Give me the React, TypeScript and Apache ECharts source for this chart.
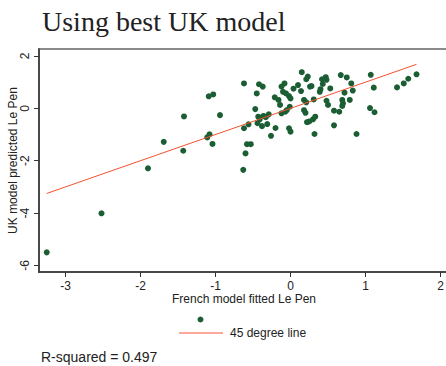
import React, { useEffect, useRef } from "react";
import * as echarts from "echarts";

const frenchFitted = [
  -3.25, -2.52, -1.9, -1.69, -1.43, -1.42, -1.09, -1.03, -0.94, -1.11, -1.08, -1.04,
  -0.62, -0.62, -0.56, -0.58, -0.53, -0.6, -0.63, -0.42, -0.37, -0.45, -0.47, -0.43,
  -0.41, -0.36, -0.33, -0.29, -0.44, -0.38, -0.31, -0.26, -0.2, -0.02, 0.0, -0.21,
  -0.16, -0.14, -0.12, -0.07, -0.05, -0.01, -0.12, -0.08, -0.1, -0.06, -0.02, 0.0,
  0.04, 0.1, 0.14, 0.15, 0.21, 0.23, 0.18, 0.21, 0.18, 0.2, 0.22, 0.25,
  0.3, 0.33, 0.32, 0.26, 0.28, 0.31, 0.39, 0.4, 0.43, 0.42, 0.47, 0.48,
  0.53, 0.48, 0.5, 0.58, 0.65, 0.58, 0.67, 0.75, 0.81, 0.72, 0.83, 0.69,
  0.7, 0.69, 0.79, 0.88, 1.07, 1.11, 1.06, 1.12, 1.42, 1.51, 1.57, 1.68,
];
const ukPredicted = [
  -5.5, -4.01, -2.29, -1.28, -1.62, -0.31, 0.46, 0.53, -0.26, -1.11, -0.99, -1.36,
  0.95, -0.76, -0.61, -1.37, -1.37, -1.72, -2.35, 0.92, 0.83, 0.57, -0.03, -0.32,
  -0.42, -0.29, -0.34, -0.23, -0.57, -0.68, -0.6, -1.05, -0.75, -0.76, -0.89, 0.42,
  0.32, 0.13, -0.19, -0.13, -0.07, 0.06, 0.83, 0.95, 0.63, 0.57, 0.47, 0.38,
  0.75, 0.89, 0.66, 1.38, 1.11, 1.21, 0.32, 0.23, -0.07, -0.17, -0.53, -0.5,
  -0.42, -0.32, -0.98, 0.83, 0.85, 0.34, 0.63, 0.73, 0.93, 1.11, 1.19, 1.09,
  0.76, 0.29, 0.13, -0.09, -0.13, -0.65, 1.27, 1.18, 0.95, 0.6, 0.68, 0.32,
  0.19, 0.09, 0.32, -0.98, 1.28, 0.79, 0.01, -0.15, 0.8, 0.95, 1.13, 1.3,
];
const xTicks = [-3, -2, -1, 0, 1, 2];
const yTicks = [-6, -4, -2, 0, 2];
const titleText = "Using best UK model";
const xName = "French model fitted Le Pen";
const yName = "UK model predicted Le Pen";
const lineName = "45 degree line";
const rSquared = "R-squared = 0.497";

const SANS = "'Liberation Sans', Arial, sans-serif";
const DOT = "#1b5e33";
const RED = "#f4512e";

export default function App() {
  const ref = useRef<HTMLDivElement>(null);
  useEffect(() => {
    if (!ref.current) return;
    const chart = echarts.init(ref.current, undefined, { renderer: "svg" });
    const pts = frenchFitted.map((x, i) => [x, ukPredicted[i]]);
    const xmin = Math.min(...frenchFitted);
    const xmax = Math.max(...frenchFitted);
    chart.setOption({
      animation: false,
      backgroundColor: "#ffffff",
      title: {
        text: titleText,
        left: 37,
        top: 2,
        textStyle: {
          fontFamily: "'Liberation Serif', 'Times New Roman', serif",
          fontSize: 28,
          fontWeight: "normal",
          color: "#222",
        },
      },
      grid: {
        left: 39,
        right: -3,
        top: 49,
        bottom: 94,
        containLabel: false,
        outerBoundsMode: "none",
        show: true,
        borderColor: "#8a8a8a",
        borderWidth: 2,
      },
      xAxis: {
        type: "value",
        min: -3.353,
        max: 2.113,
        name: xName,
        nameLocation: "middle",
        nameGap: 21,
        nameMoveOverlap: false,
        nameTextStyle: { fontSize: 12, color: "#222", fontFamily: SANS },
        axisLine: { show: true, onZero: false, lineStyle: { color: "#333", width: 1.5 } },
        axisTick: { show: true, length: 5, customValues: xTicks, lineStyle: { color: "#333" } },
        axisLabel: {
          customValues: xTicks,
          margin: 8,
          fontSize: 12,
          color: "#222",
          fontFamily: SANS,
          formatter: (v: number) => String(v),
        },
        splitLine: { show: false },
      },
      yAxis: {
        type: "value",
        min: -6.25,
        max: 2.266,
        name: yName,
        nameLocation: "middle",
        nameGap: 20,
        nameMoveOverlap: false,
        nameTextStyle: { fontSize: 12, color: "#222", fontFamily: SANS },
        axisLine: { show: true, onZero: false, lineStyle: { color: "#333", width: 1.5 } },
        axisTick: { show: true, length: 5, customValues: yTicks, lineStyle: { color: "#333" } },
        axisLabel: {
          customValues: yTicks,
          rotate: 90,
          margin: 8,
          fontSize: 12,
          color: "#222",
          fontFamily: SANS,
          formatter: (v: number) => String(v),
        },
        splitLine: { show: false },
      },
      series: [
        {
          type: "scatter",
          data: pts,
          symbol: "circle",
          symbolSize: 6,
          itemStyle: { color: DOT, opacity: 1 },
          z: 2,
        },
        {
          type: "line",
          name: lineName,
          data: [
            [xmin, xmin],
            [xmax, xmax],
          ],
          symbol: "none",
          lineStyle: { color: RED, width: 1 },
          z: 3,
        },
      ],
      graphic: [
        { type: "circle", shape: { cx: 200.5, cy: 319.5, r: 3 }, style: { fill: DOT } },
        {
          type: "line",
          shape: { x1: 179, y1: 333, x2: 223, y2: 333 },
          style: { stroke: RED, lineWidth: 1 },
        },
        {
          type: "text",
          x: 230,
          y: 333,
          style: {
            text: lineName,
            fontSize: 12,
            fontFamily: SANS,
            fill: "#222",
            verticalAlign: "middle",
          },
        },
        {
          type: "text",
          x: 41,
          y: 357,
          style: {
            text: rSquared,
            fontSize: 14,
            fontFamily: SANS,
            fill: "#222",
            verticalAlign: "middle",
          },
        },
      ],
    });
    return () => chart.dispose();
  }, []);
  return (
    <div
      ref={ref}
      style={{ position: "absolute", left: 0, top: 0, width: 446, height: 366 }}
    />
  );
}
